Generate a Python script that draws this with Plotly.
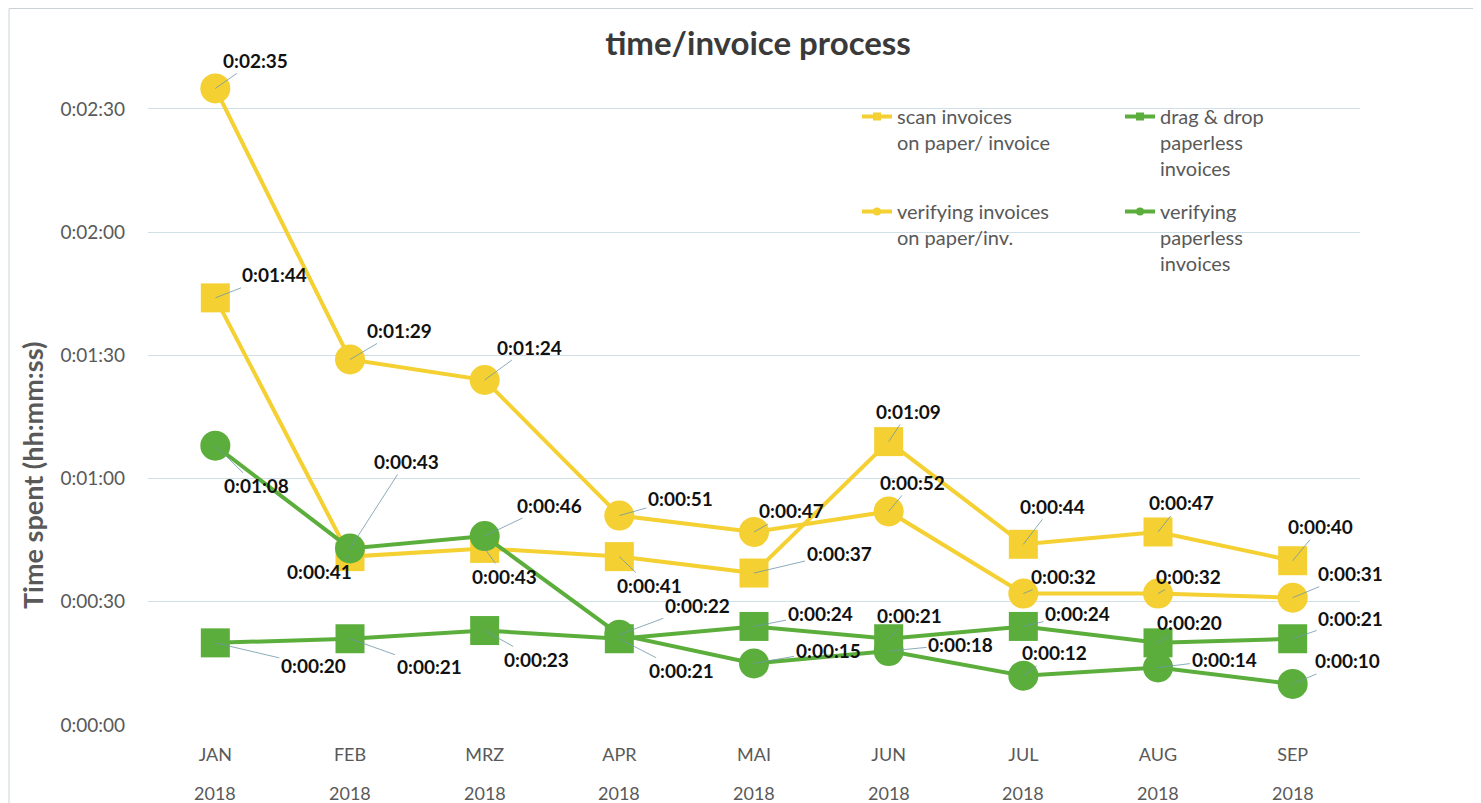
import plotly.graph_objects as go

# ---------------- data ----------------
months = ["JAN", "FEB", "MRZ", "APR", "MAI", "JUN", "JUL", "AUG", "SEP"]
year_label = "2018"

# values in seconds
scan_paper = [104, 41, 43, 41, 37, 69, 44, 47, 40]          # scan invoices on paper / invoice
verify_paper = [155, 89, 84, 51, 47, 52, 32, 32, 31]        # verifying invoices on paper / inv.
dragdrop_paperless = [20, 21, 23, 21, 24, 21, 24, 20, 21]   # drag & drop paperless invoices
verify_paperless = [68, 43, 46, 22, 15, 18, 12, 14, 10]     # verifying paperless invoices

series_names = [
    "scan invoices<br>on paper/ invoice",
    "verifying invoices<br>on paper/inv.",
    "drag & drop<br>paperless<br>invoices",
    "verifying<br>paperless<br>invoices",
]

y_tick_values = [0, 30, 60, 90, 120, 150]

# label offsets (pixels, from point to label centre) -- layout only
off_scan_paper = [(59, -23), (-31, 15), (20, 28), (30, 29), (85, -20), (20, -30), (29, -38), (23, -29), (28, -34)]
off_verify_paper = [(40, -28), (49, -29), (45, -33), (61, -17), (37, -21), (24, -29), (40, -17), (30, -17), (58, -24)]
off_dragdrop = [(98, 23), (79, 28), (52, 29), (62, 32), (66, -13), (21, -23), (54, -13), (31, -20), (58, -20)]
off_verify_paperless = [(41, 40), (56, -87), (65, -31), (78, -29), (74, -13), (72, -7), (31, -23), (66, -8), (55, -23)]


def hms(sec):
    h, r = divmod(int(sec), 3600)
    m, s = divmod(r, 60)
    return f"{h}:{m:02d}:{s:02d}"


YELLOW = "#F4D032"
GREEN = "#5BAE3C"
FONT = "Lato"
GREY = "#595959"

fig = go.Figure()

main = [
    (scan_paper, YELLOW, "square", 29, off_scan_paper),
    (verify_paper, YELLOW, "circle", 30, off_verify_paper),
    (dragdrop_paperless, GREEN, "square", 29, off_dragdrop),
    (verify_paperless, GREEN, "circle", 30, off_verify_paperless),
]

for vals, col, sym, size, _ in main:
    fig.add_trace(go.Scatter(
        x=months, y=vals, mode="lines+markers",
        line=dict(color=col, width=4),
        marker=dict(color=col, symbol=sym, size=size),
        showlegend=False, hoverinfo="skip",
    ))

# legend-only entries (small markers like the original legend)
legend_ids = ["legend", "legend", "legend2", "legend2"]
for i, (vals, col, sym, size, _) in enumerate(main):
    fig.add_trace(go.Scatter(
        x=[None], y=[None], mode="lines+markers", name=series_names[i],
        line=dict(color=col, width=4),
        marker=dict(color=col, symbol=sym, size=8),
        legend=legend_ids[i], legendgroup=f"g{i}", showlegend=True,
    ))

# data labels with leader lines
for vals, col, sym, size, offs in main:
    for m, v, (dx, dy) in zip(months, vals, offs):
        fig.add_annotation(
            x=m, y=v, text=f"<b>{hms(v)}</b>", ax=dx, ay=dy,
            showarrow=True, arrowhead=0, arrowwidth=0.8, arrowcolor="#6f97a8",
            font=dict(family=FONT, size=19, color="#111111"),
        )

# geometry (figure pixels)
W, H = 1481, 803
L, R, T, B = 140, 129, 32, 86
pw, ph = W - L - R, H - T - B


def px_x(x):
    return (x - L) / pw


def px_y(y):
    return (H - B - y) / ph


# year line under month labels
for m in months:
    fig.add_annotation(x=m, y=px_y(785), yref="paper", text=year_label, showarrow=False,
                       yanchor="middle", font=dict(family=FONT, size=18, color=GREY))

# y-axis title
fig.add_annotation(x=px_x(25), y=px_y(468), xref="paper", yref="paper",
                   text="<b>Time spent (hh:mm:ss)</b>", textangle=-90, showarrow=False,
                   xanchor="center", yanchor="middle",
                   font=dict(family=FONT, size=27, color=GREY))

# chart border (thin grey frame)
fig.add_shape(type="rect", xref="paper", yref="paper",
              x0=px_x(1), x1=px_x(W + 10), y0=px_y(H + 10), y1=px_y(0.5),
              line=dict(color="#c9d3d6", width=1), fillcolor="rgba(0,0,0,0)", layer="below")

fig.update_layout(
    width=W, height=H,
    margin=dict(l=L, r=R, t=T, b=B, autoexpand=False),
    paper_bgcolor="white", plot_bgcolor="white",
    font=dict(family=FONT, size=18, color=GREY),
    title=dict(text="<b>time/invoice process</b>", x=750 / W, xanchor="center",
               y=1 - 35 / H, yanchor="middle", yref="container",
               font=dict(family=FONT, size=33, color="#3a3a3a")),
    xaxis=dict(
        range=[-0.5, 8.5], tickmode="array", tickvals=months, ticktext=months,
        showgrid=False, zeroline=False, showline=False, ticks="", automargin=False,
        ticklabelstandoff=17, tickfont=dict(size=18, color=GREY),
    ),
    yaxis=dict(
        range=[0, ph / 4.107], tickmode="array", tickvals=y_tick_values,
        ticktext=[hms(v) for v in y_tick_values],
        showgrid=True, gridcolor="#cfe0e8", gridwidth=1, zeroline=False, automargin=False,
        ticks="", ticklabelstandoff=22, tickfont=dict(size=19, color=GREY),
    ),
    legend=dict(x=px_x(849), y=px_y(89), xanchor="left", yanchor="top",
                bgcolor="rgba(0,0,0,0)", valign="top", traceorder="grouped",
                tracegroupgap=40, font=dict(family=FONT, size=20, color=GREY)),
    legend2=dict(x=px_x(1112), y=px_y(89), xanchor="left", yanchor="top",
                 bgcolor="rgba(0,0,0,0)", valign="top", traceorder="grouped",
                 tracegroupgap=14, font=dict(family=FONT, size=20, color=GREY)),
)

fig.write_html("out.html")
